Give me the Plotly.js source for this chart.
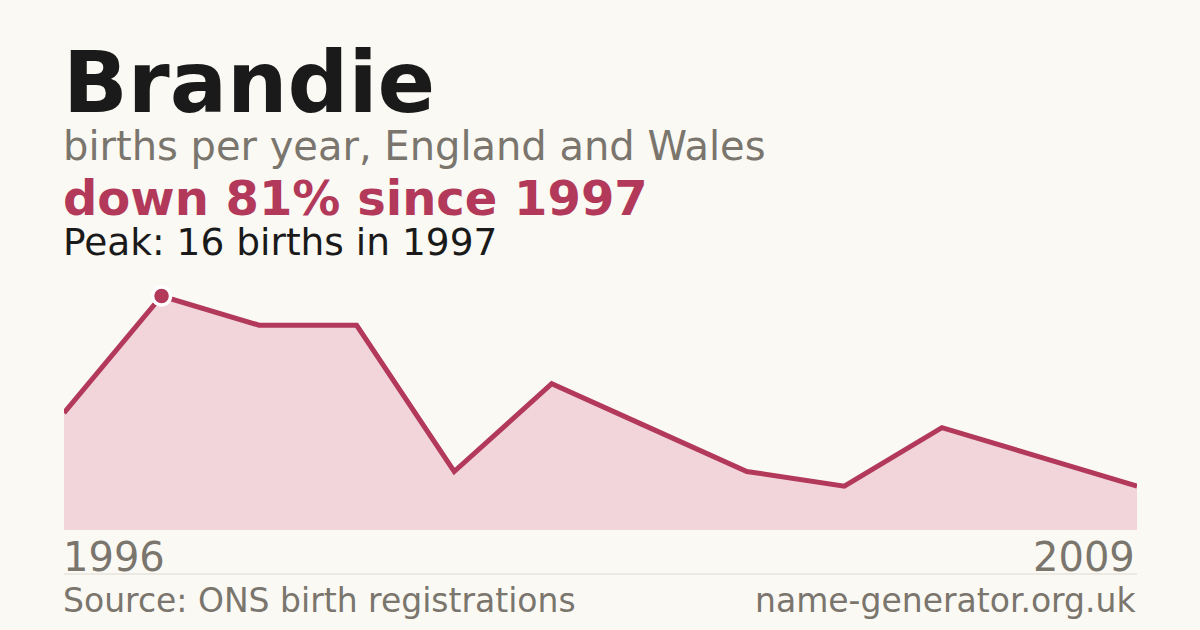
<!DOCTYPE html>
<html>
<head>
<meta charset="utf-8">
<script src="https://cdn.plot.ly/plotly-3.0.1.min.js"></script>
<style>
  html, body { margin: 0; padding: 0; background: #faf9f4; }
  #chart { width: 1200px; height: 630px; }
</style>
</head>
<body>
<div id="chart"></div>
<script>
// births per year
const years = ['1996', '1997', '1998', '1999', '2000', '2001', '2002', '2003', '2005', '2006', '2008', '2009'];
const births = [8, 16, 14, 14, 4, 10, 7, 4, 3, 7, 5, 3];
const peakYear = '1997';
const peakValue = 16;

const red = '#b3395a';
const grey = '#7a756d';

// pixel rows/cols of the plot area: top 296, bottom 530, left 64, right 1137
const py = (y) => (530 - y) / 234;
const px = (x) => (x - 64) / 1073;

const area = {
    x: years,
    y: births,
    type: 'scatter',
    mode: 'lines',
    fill: 'tozeroy',
    fillcolor: '#f2d5db',
    line: { color: red, width: 5 },
    hoverinfo: 'skip',
    cliponaxis: false
};

const peak = {
    x: [peakYear],
    y: [peakValue],
    type: 'scatter',
    mode: 'markers',
    marker: { size: 18, color: red, line: { color: '#ffffff', width: 3.5 } },
    hoverinfo: 'skip',
    cliponaxis: false
};

const font = 'DejaVu Sans, sans-serif';

function label(text, x, y, anchor, size, color) {
    return { text, xref: 'paper', yref: 'paper', x, y, xanchor: anchor, yanchor: 'middle',
             showarrow: false, font: { size, color } };
}

const layout = {
    width: 1200,
    height: 630,
    margin: { l: 64, r: 63, t: 296, b: 100 },
    paper_bgcolor: '#faf9f4',
    plot_bgcolor: '#faf9f4',
    showlegend: false,
    font: { family: font },
    xaxis: {
        type: 'category',
        range: [0, years.length - 1],
        showticklabels: false,
        showgrid: false,
        zeroline: false,
        showline: false,
        ticks: ''
    },
    yaxis: {
        range: [0, peakValue],
        showticklabels: false,
        showgrid: false,
        zeroline: false,
        showline: false,
        ticks: ''
    },
    shapes: [{
        type: 'line', xref: 'paper', yref: 'paper',
        x0: 0, x1: 1, y0: py(574), y1: py(574),
        line: { color: '#dedad2', width: 1 }
    }],
    annotations: [
        label('<b>Brandie</b>', px(61), py(83), 'left', 85, '#1a1a1a'),
        label('births per year, England and Wales', px(61), py(146), 'left', 40, grey),
        label('<b>down 81% since 1997</b>', px(61), py(198), 'left', 48, red),
        label('Peak: 16 births in 1997', px(61), py(242), 'left', 37.5, '#1a1a1a'),
        label(years[0], px(61), py(557), 'left', 40, grey),
        label(years[years.length - 1], px(1137), py(557), 'right', 40, grey),
        label('Source: ONS birth registrations', px(61), py(600), 'left', 33, grey),
        label('name-generator.org.uk', px(1138), py(600), 'right', 33, grey)
    ]
};

Plotly.newPlot('chart', [area, peak], layout, { staticPlot: true, displayModeBar: false });
</script>
</body>
</html>
